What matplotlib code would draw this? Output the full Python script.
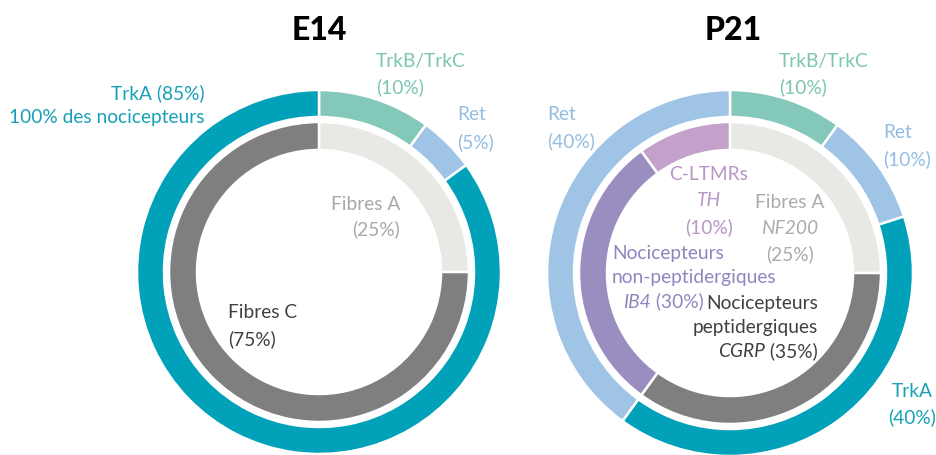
import matplotlib.pyplot as plt

plt.rcParams['font.family'] = ['Lato', 'DejaVu Sans']

W, H = 937, 456

# colours
TEAL = '#00a1b9'
MINT = '#84c8ba'
BLUE = '#a0c4e6'
LGREY = '#e8e8e4'
DGREY = '#7f7f7f'
PURPLE = '#9a8ec0'
PINK = '#c3a1cb'

# E14
e14_outer = [10, 5, 85]           # TrkB/TrkC, Ret, TrkA
e14_outer_col = [MINT, BLUE, TEAL]
e14_inner = [25, 75]              # Fibres A, Fibres C
e14_inner_col = [LGREY, DGREY]

# P21
p21_outer = [10, 10, 40, 40]      # TrkB/TrkC, Ret, TrkA, Ret
p21_outer_col = [MINT, BLUE, TEAL, BLUE]
p21_inner = [25, 35, 30, 10]      # NF200, CGRP, IB4, TH
p21_inner_col = [LGREY, DGREY, PURPLE, PINK]

FS = 13.8

fig = plt.figure(figsize=(W / 100, H / 100), dpi=100)
ax = fig.add_axes([0, 0, 1, 1])


def donut(cx, cy, outer, outer_col, inner, inner_col, r=182):
    # y given from the top edge
    c = (cx, H - cy)
    wp = dict(edgecolor='white', linewidth=1.8)
    ax.pie(outer, colors=outer_col, radius=r, center=c, startangle=90,
           counterclock=False, wedgeprops=dict(width=27, **wp), frame=True)
    ax.pie(inner, colors=inner_col, radius=r - 32, center=c, startangle=90,
           counterclock=False, wedgeprops=dict(width=28, **wp), frame=True)


def label(x, y, lines, color, ha='left', step=26, size=FS):
    # a line given as (text, italic) is drawn in italics
    for i, s in enumerate(lines):
        style = 'normal'
        if isinstance(s, tuple):
            s, style = s[0], 'italic'
        ax.text(x, H - (y + i * step), s, color=color, ha=ha, va='center',
                fontsize=size, fontstyle=style)


def mixed(x, y, it, rest, color, ha='left', size=FS):
    # italic marker name followed by the upright percentage
    if ha == 'left':
        t = ax.text(x, H - y, it, color=color, ha='left', va='center',
                    fontsize=size, fontstyle='italic')
        ax.annotate(rest, xy=(1, 0), xycoords=t, ha='left', va='bottom',
                    color=color, fontsize=size)
    else:
        t = ax.text(x, H - y, rest, color=color, ha='right', va='center',
                    fontsize=size)
        ax.annotate(it, xy=(0, 0), xycoords=t, ha='right', va='bottom',
                    color=color, fontsize=size, fontstyle='italic')


donut(319, 273, e14_outer, e14_outer_col, e14_inner, e14_inner_col)
donut(730, 274, p21_outer, p21_outer_col, p21_inner, p21_inner_col, r=183)

ax.set_xlim(0, W)
ax.set_ylim(0, H)
ax.set_aspect('equal')
ax.axis('off')

ax.text(319, H - 30, 'E14', ha='center', va='center', fontsize=23,
        fontweight='black')
ax.text(733, H - 30, 'P21', ha='center', va='center', fontsize=23,
        fontweight='black')

# E14 labels
label(205, 93, ['TrkA (85%)', '100% des nocicepteurs'], '#17a0b7', ha='right', step=25)
label(376, 61, ['TrkB/TrkC', '(10%)'], '#7cc5b3')
label(457, 115, ['Ret', '(5%)'], '#95bde3', step=27)
label(400, 204, ['Fibres A', '(25%)'], '#a8a8a8', ha='right', step=25)
label(228, 313, ['Fibres C', '(75%)'], '#404040')

# P21 labels
label(779, 61, ['TrkB/TrkC', '(10%)'], '#7cc5b3')
label(883, 133, ['Ret', '(10%)'], '#95bde3')
label(547, 115, ['Ret', '(40%)'], '#95bde3')
label(912, 392, ['TrkA', '(40%)'], '#17a0b7', ha='center', step=25)
label(709, 175, ['C-LTMRs', ('TH',), '(10%)'], '#b896c6', ha='center')
label(790, 202, ['Fibres A', ('NF200',), '(25%)'], '#ababab', ha='center')
label(612, 254, ['Nocicepteurs', 'non-peptidergiques'], '#8e86bf', step=23)
mixed(623, 302, 'IB4', ' (30%)', '#8e86bf')
label(818, 303, ['Nocicepteurs', 'peptidergiques'], '#404040', ha='right', step=24)
mixed(818, 351, 'CGRP', ' (35%)', '#404040', ha='right')

fig.savefig('out.png', dpi=100)
